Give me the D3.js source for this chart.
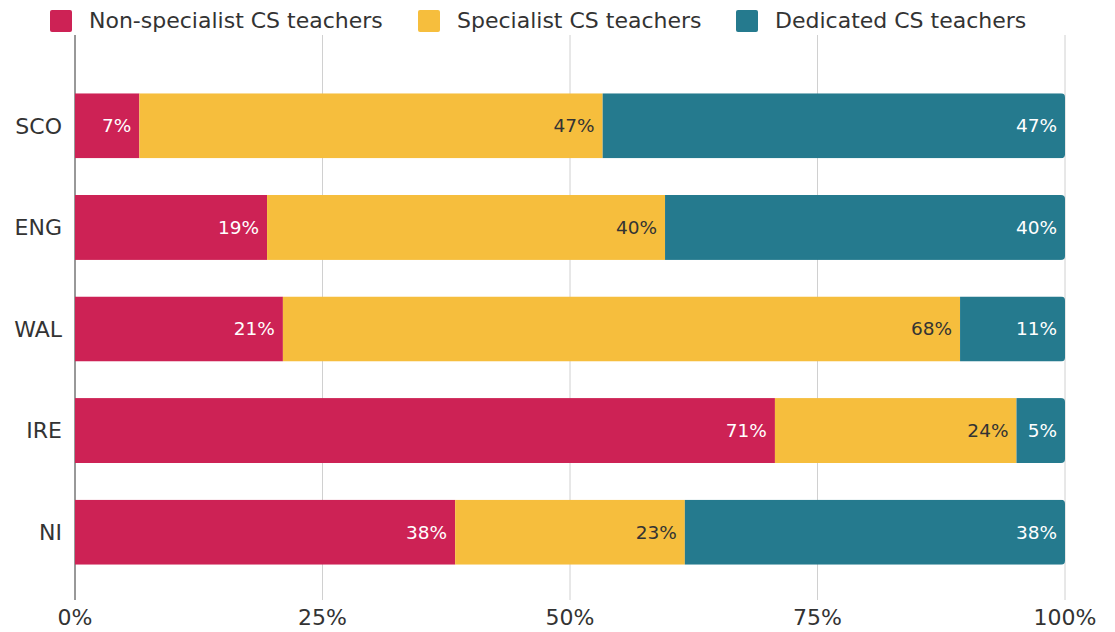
<!DOCTYPE html>
<html>

<head>
  <title>CS teachers</title>
  <script src="https://cdn.jsdelivr.net/npm/d3@7"></script>
  <style>
    body { margin: 0; background: #fff; }
    text { font-family: "DejaVu Sans", Verdana, sans-serif; }
  </style>
</head>

<body>
  <svg width="1115" height="632" id="mainsvg"></svg>
  <script>
    const svg = d3.select('#mainsvg');
    const margin = { top: 35, right: 50, bottom: 32, left: 75 };
    const innerWidth = 1065 - margin.left;
    const innerHeight = 600 - margin.top;

    const regions = ['SCO', 'ENG', 'WAL', 'IRE', 'NI'];
    const keys = ['nonSpecialist', 'specialist', 'dedicated'];
    const seriesNames = ['Non-specialist CS teachers', 'Specialist CS teachers', 'Dedicated CS teachers'];
    const nonSpecialist = [6.5, 19.4, 21.0, 70.7, 38.4];
    const specialist = [46.8, 40.2, 68.4, 24.4, 23.2];
    const dedicated = [46.7, 40.4, 10.6, 4.9, 38.4];
    const xTicks = [0, 25, 50, 75, 100];

    const colors = ['#cd2255', '#f6be3d', '#257a8e'];
    const labelColors = ['#fff', '#333', '#fff'];

    const data = regions.map((r, i) => ({
      region: r, nonSpecialist: nonSpecialist[i], specialist: specialist[i], dedicated: dedicated[i]
    }));
    const stack = d3.stack().keys(keys)(data);

    const g = svg.append('g').attr('transform', `translate(${margin.left}, ${margin.top})`);

    const x = d3.scaleLinear().domain([0, 100]).range([0, innerWidth]);
    const y = d3.scaleBand().domain(regions).range([40, 548]).paddingInner(0.36).paddingOuter(0.18);

    // 网格线
    g.selectAll('.grid').data(xTicks.slice(1)).join('line')
      .attr('x1', d => x(d)).attr('x2', d => x(d))
      .attr('y1', 0).attr('y2', innerHeight)
      .attr('stroke', '#d0d0d0').attr('stroke-width', 1);
    g.append('line').attr('x1', 0).attr('x2', 0).attr('y1', 0).attr('y2', innerHeight)
      .attr('stroke', '#333').attr('stroke-width', 1);

    // x tick labels
    g.selectAll('.xtick').data(xTicks).join('text')
      .attr('x', d => x(d)).attr('y', innerHeight + 25)
      .attr('text-anchor', 'middle').attr('font-size', 22).attr('fill', '#333')
      .text(d => d + '%');

    // y labels
    g.selectAll('.ylab').data(regions).join('text')
      .attr('x', -13).attr('y', d => y(d) + y.bandwidth() / 2)
      .attr('dy', '0.35em').attr('text-anchor', 'end')
      .attr('font-size', 22).attr('fill', '#333')
      .text(d => d);

    // clip for rounded right ends
    const defs = svg.append('defs');
    regions.forEach((r, i) => {
      defs.append('clipPath').attr('id', 'clip' + i)
        .append('rect')
        .attr('x', -6).attr('y', y(r))
        .attr('width', x(100) + 6).attr('height', y.bandwidth())
        .attr('rx', 4);
    });

    const bars = g.selectAll('.bar').data(regions).join('g')
      .attr('clip-path', (d, i) => `url(#clip${i})`);

    stack.forEach((s, k) => {
      s.forEach((d, i) => {
        const grp = bars.filter((_, j) => j === i);
        grp.append('rect')
          .attr('x', x(d[0])).attr('y', y(regions[i]))
          .attr('width', x(d[1]) - x(d[0])).attr('height', y.bandwidth())
          .attr('fill', colors[k]);
        g.append('text')
          .attr('x', x(d[1]) - 8).attr('y', y(regions[i]) + y.bandwidth() / 2)
          .attr('dy', '0.35em').attr('text-anchor', 'end')
          .attr('font-size', 18.5).attr('fill', labelColors[k])
          .text(Math.round(d[1] - d[0]) + '%');
      });
    });

    // legend
    const legendX = [50, 418, 736];
    const legend = svg.selectAll('.legend').data(seriesNames).join('g')
      .attr('transform', (d, i) => `translate(${legendX[i]}, 10)`);
    legend.append('rect').attr('width', 22).attr('height', 22).attr('rx', 2)
      .attr('fill', (d, i) => colors[i]);
    legend.append('text').attr('x', 39).attr('y', 10).attr('dy', '0.35em')
      .attr('font-size', 22).attr('fill', '#333')
      .text(d => d);
  </script>
</body>

</html>
